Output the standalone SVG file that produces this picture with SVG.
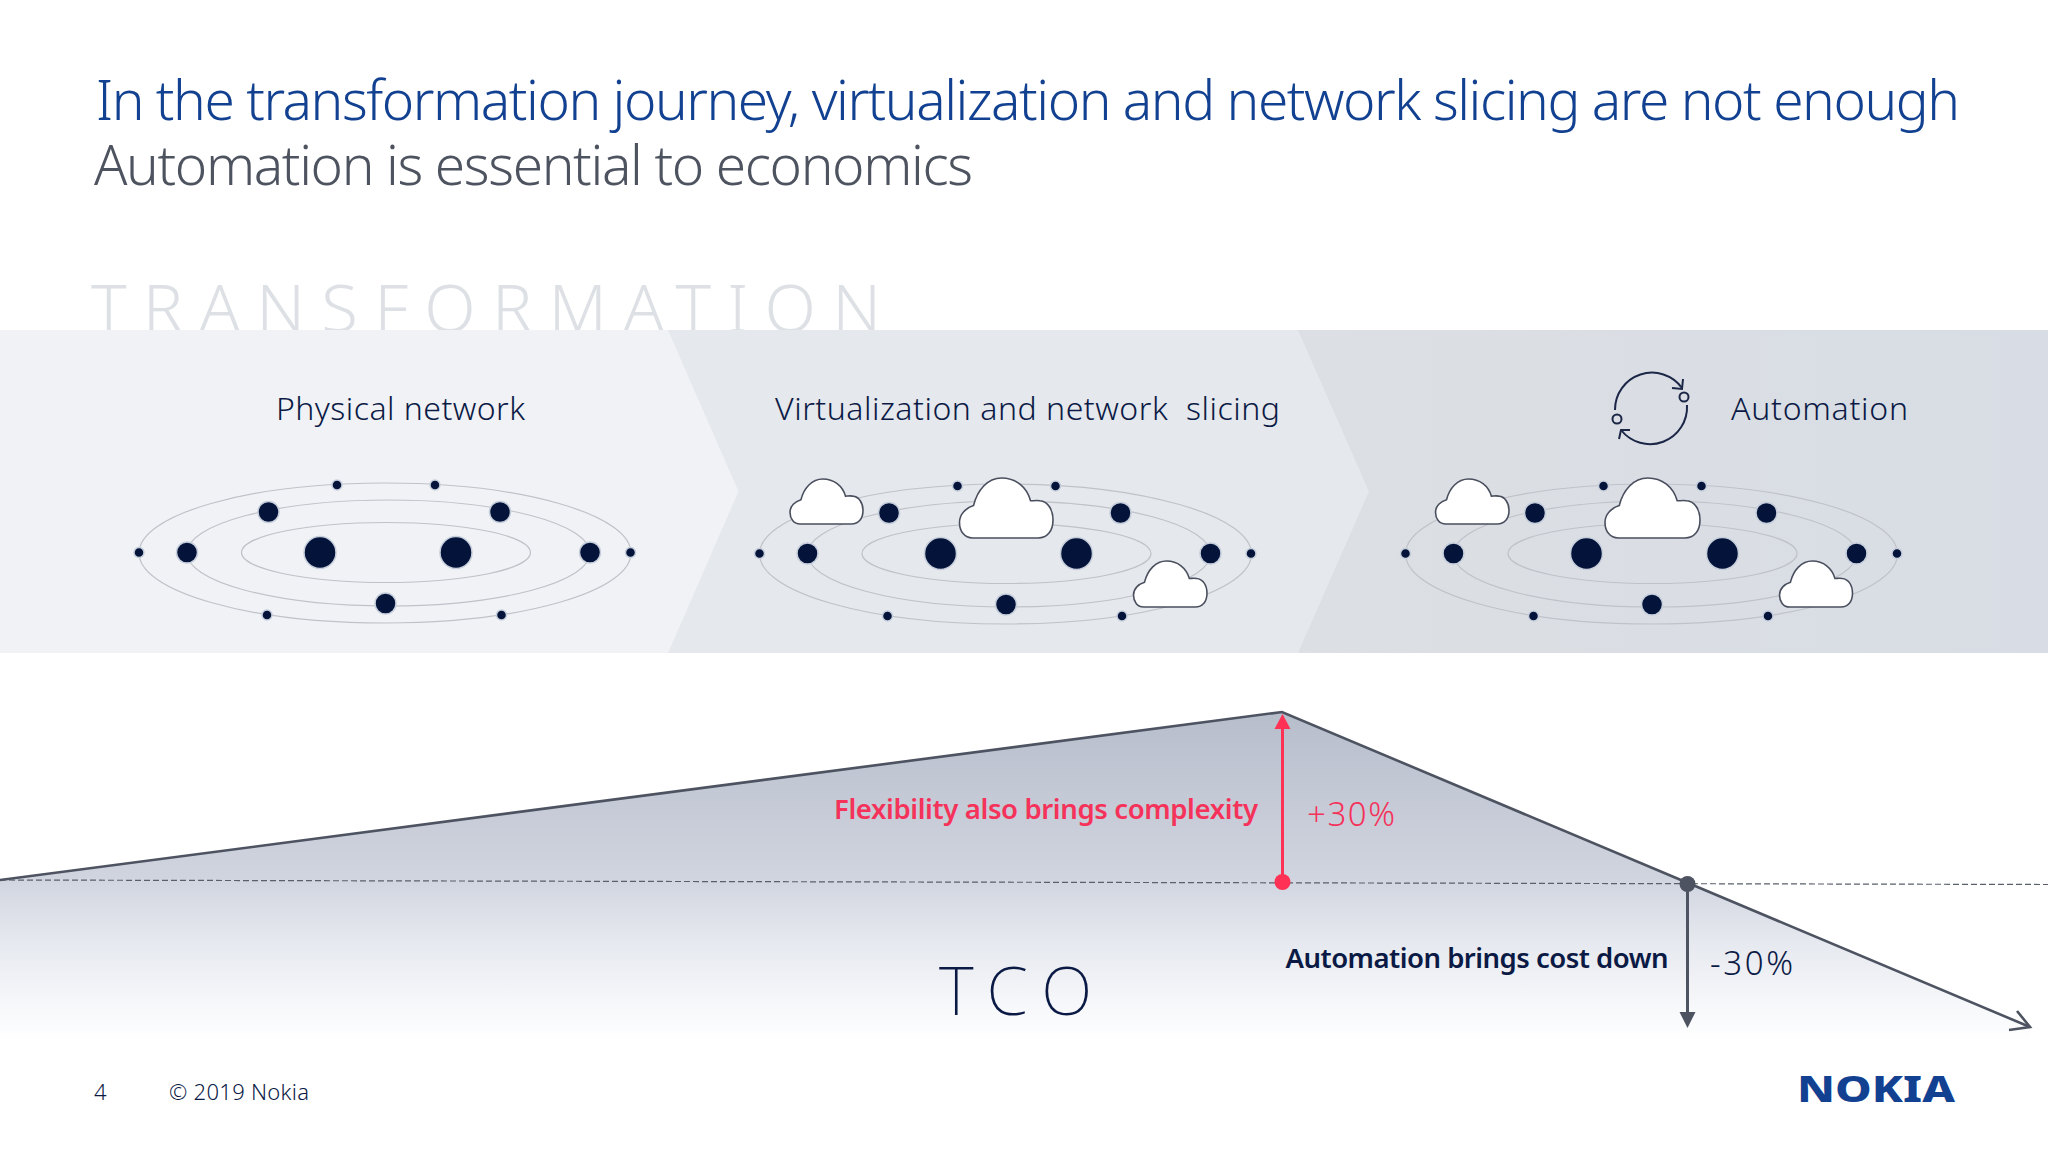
<svg xmlns="http://www.w3.org/2000/svg" xmlns:xlink="http://www.w3.org/1999/xlink" width="2048" height="1152" viewBox="0 0 2048 1152">
<style>
text{font-family:"Noto Sans","Open Sans",sans-serif;font-weight:300}
.lab{font-size:32px;fill:#0b1a45}
.big{font-size:67px;font-weight:200}
.orbit{fill:none;stroke:#bfc2c9;stroke-width:1.2}
.dot{fill:#031339;stroke:#c6cedc;stroke-width:1.5}
.cloud{fill:#fff;stroke:#4a4f5e;stroke-width:1.6;vector-effect:non-scaling-stroke}
.ic{fill:none;stroke:#1c2748;stroke-width:2}
</style>
<defs>
<linearGradient id="tco" gradientUnits="userSpaceOnUse" x1="0" y1="712" x2="0" y2="1042">
<stop offset="0" stop-color="#b7becb"/><stop offset="0.5" stop-color="#d0d4df"/><stop offset="0.7" stop-color="#e6e9ef"/><stop offset="0.88" stop-color="#f6f7fa"/><stop offset="1" stop-color="#fff"/>
</linearGradient>
<linearGradient id="b3" x1="0" y1="0" x2="1" y2="0"><stop offset="0" stop-color="#dcdfe3"/><stop offset="1" stop-color="#d8dde5"/></linearGradient>
<g id="network">
<ellipse class="orbit" cx="385" cy="553" rx="246" ry="70"/>
<ellipse class="orbit" cx="388.5" cy="553" rx="201.5" ry="53"/>
<ellipse class="orbit" cx="386" cy="552.5" rx="144.5" ry="30"/>
<circle class="dot" cx="320" cy="552.5" r="16"/><circle class="dot" cx="456" cy="552.5" r="16"/>
<circle class="dot" cx="187" cy="552.5" r="10.5"/><circle class="dot" cx="590" cy="552.5" r="10.5"/>
<circle class="dot" cx="268.5" cy="512" r="10.5"/><circle class="dot" cx="500" cy="512" r="10.5"/>
<circle class="dot" cx="385.5" cy="603.5" r="10.5"/>
<circle class="dot" cx="139" cy="552.5" r="5"/><circle class="dot" cx="630.5" cy="552.5" r="5"/>
<circle class="dot" cx="337" cy="485" r="5"/><circle class="dot" cx="435" cy="485" r="5"/>
<circle class="dot" cx="267" cy="615" r="5"/><circle class="dot" cx="501.5" cy="615" r="5"/>
</g>
<path id="cloud" class="cloud" d="M14,100 C5,100 0,88 0,74 C0,60 7,50 15,46 C19,20 30,0 45,0 C60,0 72,15 76,38 C79,38 82,37 86,38 C94,39 100,52 100,70 C100,88 94,100 84,100 Z"/>
</defs>
<rect width="2048" height="1152" fill="#fff"/>
<g id="title">
<text x="96" y="120" font-size="55" fill="#124191" textLength="1864">In the transformation journey, virtualization and network slicing are not enough</text>
<text x="94" y="185" font-size="55" fill="#4e5360" textLength="879">Automation is essential to economics</text>
</g>
<text id="transformation" class="big" x="91" y="332" style="font-weight:300" fill="#dde0e4" textLength="790">TRANSFORMATION</text>
<g id="band">
<rect x="1290" y="330" width="758" height="323" fill="url(#b3)"/>
<polygon points="668,330 1298,330 1369,491.5 1298,653 668,653" fill="#e5e8ec"/>
<polygon points="0,330 668,330 738.5,491.5 668,653 0,653" fill="#f0f2f5"/>
</g>
<g id="physical-network">
<text class="lab" x="276" y="420" textLength="249">Physical network</text>
<use href="#network"/>
</g>
<g id="virtualization">
<text class="lab" x="775" y="420" textLength="505" xml:space="preserve">Virtualization and network  slicing</text>
<use href="#network" transform="translate(620.5,1)"/>
<use href="#cloud" transform="translate(790,479) scale(.73,.45)"/>
<use href="#cloud" transform="translate(959.5,478) scale(.935,.6)"/>
<use href="#cloud" transform="translate(1133.5,561) scale(.735,.46)"/>
</g>
<g id="automation">
<text class="lab" x="1731" y="420" textLength="177">Automation</text>
<path class="ic" d="M1615,410 A37,37 0 0 1 1682,388"/>
<path class="ic" d="M1683,379 L1682,389 L1672,388"/>
<circle class="ic" cx="1684" cy="397" r="4.5"/>
<path class="ic" d="M1687,405 A37,37 0 0 1 1621,430"/>
<path class="ic" d="M1619,439 L1621,430 L1630,430"/>
<circle class="ic" cx="1617" cy="419" r="4.5"/>
<use href="#network" transform="translate(1266.5,1)"/>
<use href="#cloud" transform="translate(1435.5,479) scale(.735,.45)"/>
<use href="#cloud" transform="translate(1605,478) scale(.95,.6)"/>
<use href="#cloud" transform="translate(1779.5,561) scale(.73,.46)"/>
</g>
<g id="connectors">
<polygon points="0,880 1282,712 2030,1027 2030,1042 0,1042" fill="url(#tco)"/>
<line x1="0" y1="880" x2="2048" y2="884.5" stroke="#5a5f6b" stroke-width="1.2" stroke-dasharray="6 3"/>
<polyline points="0,880 1282,712 2030,1027" fill="none" stroke="#4d5361" stroke-width="2.6"/>
<polyline points="2017,1011 2030,1027 2009,1030" fill="none" stroke="#4d5361" stroke-width="2.6"/>
<line x1="1282.5" y1="882" x2="1282.5" y2="725" stroke="#ff3154" stroke-width="3"/>
<polygon points="1282.5,714 1290.5,729 1274.5,729" fill="#ff3154"/>
<circle cx="1282.5" cy="882" r="8" fill="#ff3154"/>
<line x1="1687.5" y1="884" x2="1687.5" y2="1015" stroke="#4d5361" stroke-width="3"/>
<polygon points="1687.5,1028 1695.5,1012 1679.5,1012" fill="#4d5361"/>
<circle cx="1687.5" cy="884" r="8" fill="#4d5361"/>
</g>
<g id="labels">
<text x="834" y="819" font-size="27.5" fill="#f5325a" style="font-weight:600" textLength="424">Flexibility also brings complexity</text>
<text x="1307" y="826" font-size="33" fill="#f5325a" textLength="88">+30%</text>
<text x="1285.5" y="968" font-size="27.5" fill="#0b1a45" style="font-weight:600" textLength="383">Automation brings cost down</text>
<text x="1710" y="975" font-size="33" fill="#0b1a45" textLength="83">-30%</text>
<text class="big" x="939" y="1015" fill="#0b1a45" textLength="153">TCO</text>
</g>
<g id="footer">
<text x="94" y="1100" font-size="22" fill="#0b1a45">4</text>
<text x="169" y="1100" font-size="22" fill="#0b1a45" textLength="140">© 2019 Nokia</text>
<text x="1797" y="1102" font-size="35" fill="#124191" style="font-weight:800" textLength="158" lengthAdjust="spacingAndGlyphs">NOKIA</text>
</g>
</svg>
